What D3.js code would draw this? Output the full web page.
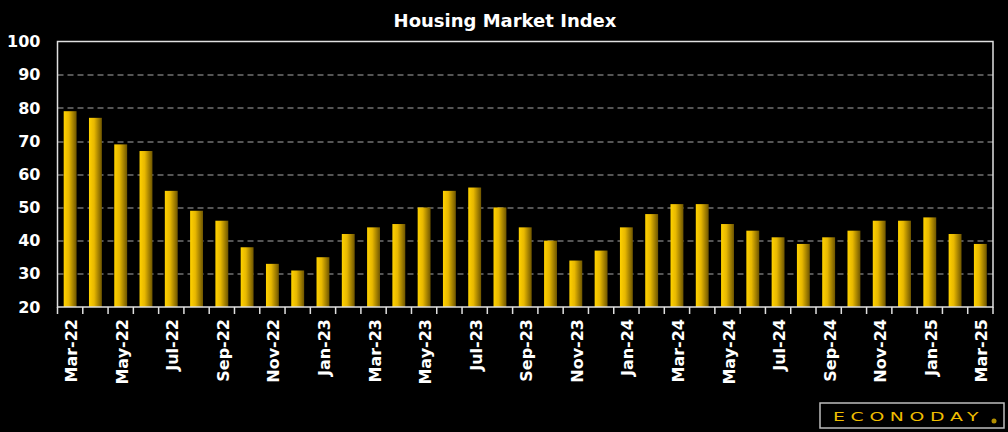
<!DOCTYPE html>
<html>
<head>
<meta charset="utf-8">
<script src="https://cdn.jsdelivr.net/npm/d3@7"></script>
<style>
  body { margin: 0; background: #000; }
  svg { display: block; }
</style>
</head>
<body>
<div id="chart"></div>
<script>
//DATA
let months = ["Mar-22","Apr-22","May-22","Jun-22","Jul-22","Aug-22","Sep-22","Oct-22","Nov-22","Dec-22",
  "Jan-23","Feb-23","Mar-23","Apr-23","May-23","Jun-23","Jul-23","Aug-23","Sep-23","Oct-23","Nov-23","Dec-23",
  "Jan-24","Feb-24","Mar-24","Apr-24","May-24","Jun-24","Jul-24","Aug-24","Sep-24","Oct-24","Nov-24","Dec-24",
  "Jan-25","Feb-25","Mar-25"];
let hmiValues = [79,77,69,67,55,49,46,38,33,31,
  35,42,44,45,50,55,56,50,44,40,34,37,
  44,48,51,51,45,43,41,39,41,43,46,46,
  47,42,39];
let yTicks = [20,30,40,50,60,70,80,90,100];

//DIMENSIONS
let WIDTH = 1008, HEIGHT = 432,
  MARGIN = { top: 41.5, right: 15, bottom: 125, left: 57.5 };
let innerW = WIDTH - MARGIN.left - MARGIN.right,
  innerH = HEIGHT - MARGIN.top - MARGIN.bottom;
let FONT = "'DejaVu Sans', Verdana, sans-serif";

let svg = d3.select("#chart").append("svg")
  .attr("width", WIDTH).attr("height", HEIGHT)
  .style("background", "#000");

//Bar gradient
let grad = svg.append("defs").append("linearGradient")
  .attr("id", "barGrad").attr("x1", "0%").attr("x2", "100%").attr("y1", "0%").attr("y2", "0%");
grad.append("stop").attr("offset", "0%").attr("stop-color", "#ffd200");
grad.append("stop").attr("offset", "40%").attr("stop-color", "#e8b800");
grad.append("stop").attr("offset", "100%").attr("stop-color", "#6e5500");

//Title
svg.append("text")
  .attr("x", 505).attr("y", 27)
  .attr("text-anchor", "middle")
  .style("font-family", FONT)
  .style("font-weight", "bold").style("font-size", "18px")
  .attr("fill", "#fff")
  .text("Housing Market Index");

let g = svg.append("g").attr("transform", `translate(${MARGIN.left},${MARGIN.top})`);

//SCALES
let xScale = d3.scaleBand().domain(months).range([0, innerW]).paddingInner(0.49).paddingOuter(0.245);
let xBand = d3.scaleBand().domain(months).range([0, innerW]);
let yScale = d3.scaleLinear().domain([20, 100]).range([innerH, 0]);

//Grid lines
g.append("g").selectAll("line")
  .data(yTicks.filter(d => d > 20 && d < 100))
  .join("line")
  .attr("x1", 0).attr("x2", innerW)
  .attr("y1", d => Math.round(yScale(d)) + 0.5).attr("y2", d => Math.round(yScale(d)) + 0.5)
  .attr("stroke", "#a8a8a8").attr("stroke-width", 1)
  .attr("stroke-dasharray", "6,4");

//Bars
g.append("g").selectAll("rect")
  .data(hmiValues)
  .join("rect")
  .attr("x", (d, i) => xScale(months[i]))
  .attr("width", xScale.bandwidth())
  .attr("y", d => yScale(d))
  .attr("height", d => innerH - yScale(d))
  .attr("fill", "url(#barGrad)");

//Plot frame
g.append("rect")
  .attr("x", 0).attr("y", 0).attr("width", innerW).attr("height", innerH)
  .attr("fill", "none").attr("stroke", "#e0e0e0").attr("stroke-width", 1.5);

//Y-AXIS
let yAxis = g.append("g")
  .call(d3.axisLeft(yScale).tickValues(yTicks).tickSize(0).tickPadding(17));
yAxis.select(".domain").remove();
yAxis.selectAll("text")
  .attr("fill", "#fff")
  .style("font-family", FONT)
  .style("font-weight", "bold").style("font-size", "16px");

//X-AXIS ticks at band boundaries
g.append("g").selectAll("line")
  .data(months.concat(["end"]))
  .join("line")
  .attr("x1", (d, i) => i * xBand.step()).attr("x2", (d, i) => i * xBand.step())
  .attr("y1", innerH).attr("y2", innerH + 7)
  .attr("stroke", "#e0e0e0").attr("stroke-width", 1.5);

//X labels every other month
g.append("g").selectAll("text")
  .data(months.filter((d, i) => i % 2 === 0))
  .join("text")
  .attr("transform", d => `translate(${xBand(d) + xBand.bandwidth() / 2 + 7},${innerH + 12}) rotate(-90)`)
  .attr("text-anchor", "end")
  .attr("fill", "#fff")
  .style("font-family", FONT)
  .style("font-weight", "bold").style("font-size", "16px")
  .text(d => d);

//Logo
let logo = svg.append("g").attr("transform", "translate(820,403)");
logo.append("rect")
  .attr("width", 184).attr("height", 25)
  .attr("fill", "#000").attr("stroke", "#bdbdbd").attr("stroke-width", 1.5);
logo.append("text")
  .attr("transform", "translate(13,18) scale(1.45,1)")
  .attr("fill", "#f0be00")
  .style("font-family", FONT)
  .style("font-size", "13px").style("letter-spacing", "3.9px")
  .text("ECONODAY");
logo.append("circle").attr("cx", 174).attr("cy", 18).attr("r", 2.5).attr("fill", "#b38f00");
</script>
</body>
</html>
